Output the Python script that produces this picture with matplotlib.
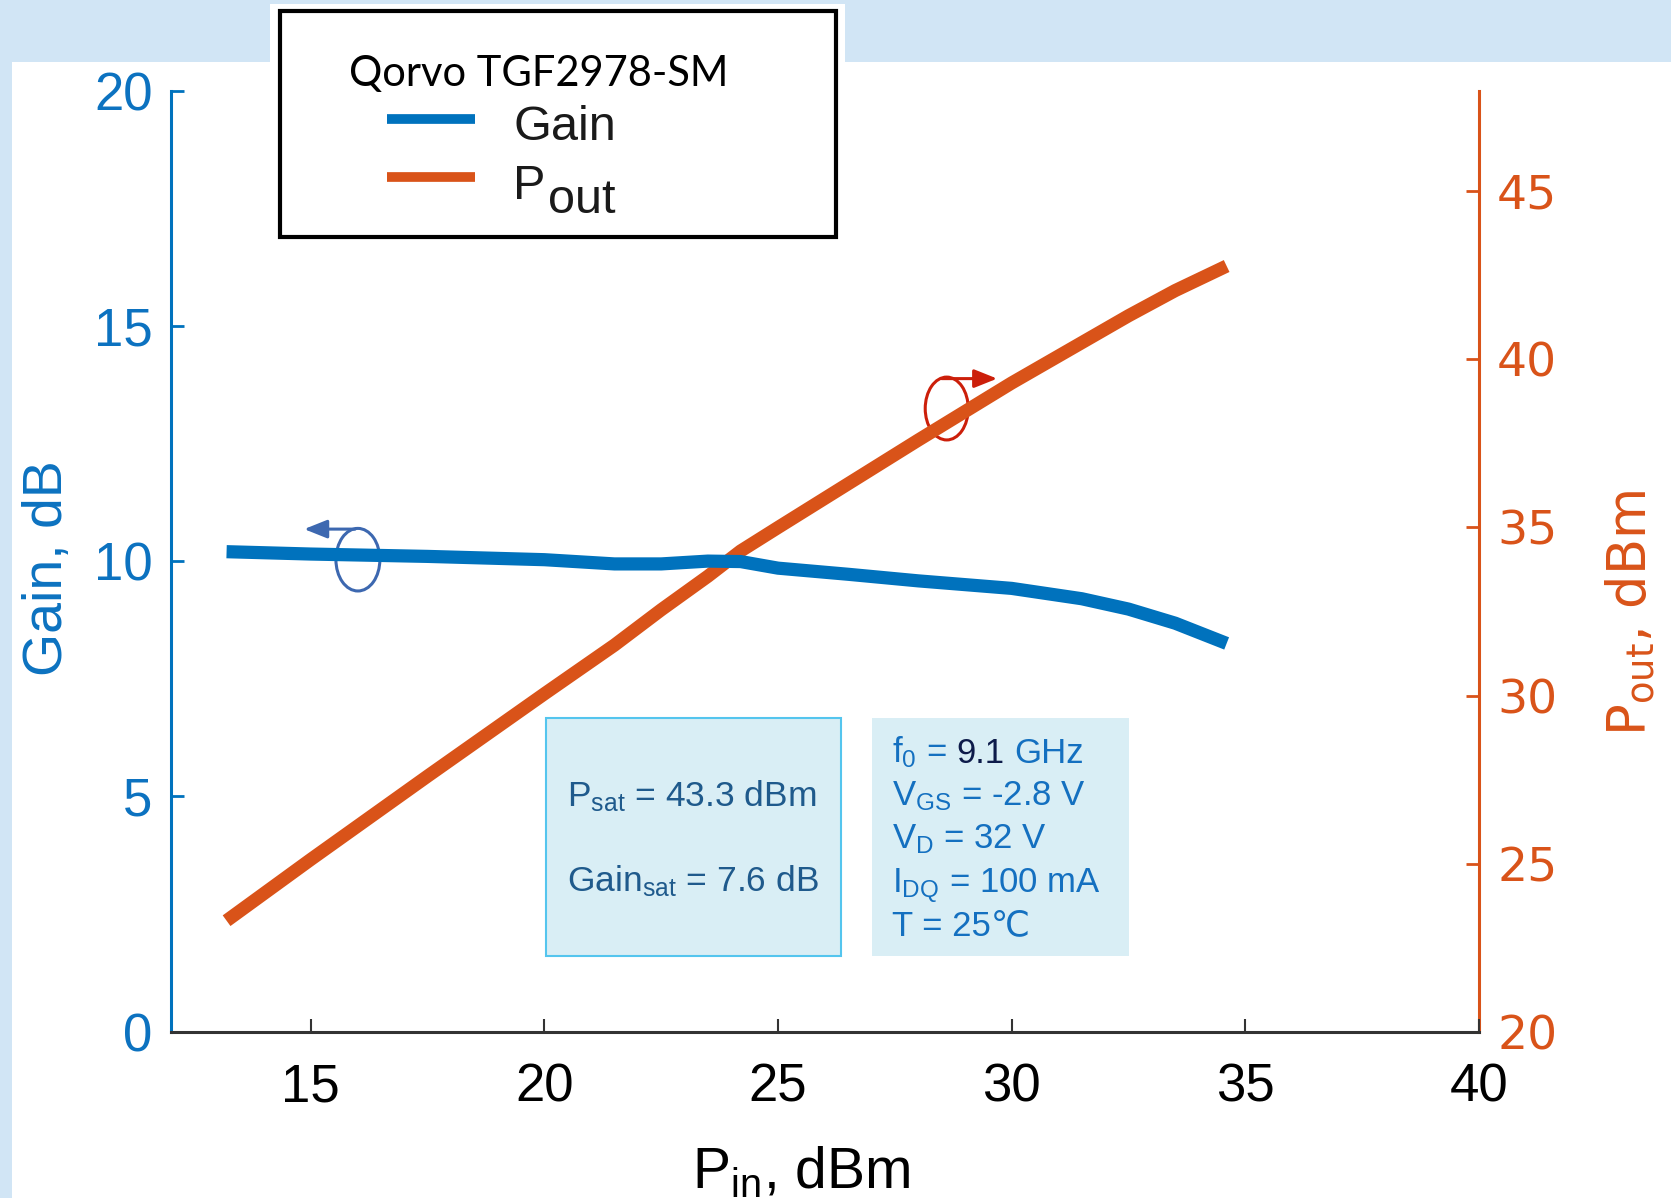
import matplotlib
matplotlib.use("Agg")
import matplotlib.pyplot as plt
from matplotlib.patches import Rectangle, Ellipse
from matplotlib.lines import Line2D

plt.rcParams['font.family'] = ['Liberation Sans', 'DejaVu Sans']
plt.rcParams['mathtext.default'] = 'regular'

# data
pin = [13.2, 15.0, 17.5, 20.0, 21.5, 22.5, 23.5, 24.2, 25.0, 26.5, 28.0, 30.0, 31.5, 32.5, 33.5, 34.6]
gain = [10.2, 10.15, 10.1, 10.03, 9.94, 9.94, 10.0, 9.99, 9.85, 9.72, 9.58, 9.42, 9.2, 8.98, 8.68, 8.25]
pout = [23.3, 25.12, 27.6, 30.05, 31.5, 32.55, 33.55, 34.3, 35.0, 36.3, 37.6, 39.3, 40.5, 41.3, 42.05, 42.78]

x_ticks = [15, 20, 25, 30, 35, 40]
gain_ticks = [0, 5, 10, 15, 20]
pout_ticks = [20, 25, 30, 35, 40, 45]

blue = '#0072bd'
orange = '#d95319'
W, H = 1671, 1198

fig = plt.figure(figsize=(W / 100, H / 100), dpi=100)
fig.patch.set_facecolor('#d1e5f5')

# white panel + white patch behind legend
fig.add_artist(Rectangle((12 / W, 0), 1, 1 - 62 / H, transform=fig.transFigure,
                         facecolor='white', edgecolor='none', zorder=-10))
fig.add_artist(Rectangle((270 / W, 1 - 80 / H), 575 / W, 76 / H, transform=fig.transFigure,
                         facecolor='white', edgecolor='none', zorder=-10))

ax = fig.add_axes([170.5 / W, 1 - 1031.6 / H, 1308.5 / W, 941 / H])
ax2 = ax.twinx()
ax.set_zorder(ax2.get_zorder() + 1)
ax.patch.set_visible(False)
ax2.patch.set_visible(False)

ax.plot(pin, gain, color=blue, lw=9.5, solid_capstyle='butt', zorder=3)
ax2.plot(pin, pout, color=orange, lw=9.5, solid_capstyle='butt', zorder=3)

ax.set_xlim(12, 40)
ax.set_ylim(0, 20)
ax2.set_ylim(20, 48)
ax.set_xticks(x_ticks)
ax.set_yticks(gain_ticks)
ax2.set_yticks(pout_ticks)

ax.tick_params(axis='x', direction='in', length=9.4, width=1.5, color='#333333',
               labelcolor='black', labelsize=38, pad=22)
ax.tick_params(axis='y', direction='in', length=9.4, width=2, color=blue,
               labelcolor='#0c72c0', labelsize=38, pad=13)
ax2.tick_params(axis='y', direction='in', length=9.4, width=2, color=orange,
                labelcolor=orange, labelsize=34, pad=13, labelfontfamily='DejaVu Sans')

for s in ['top', 'right']:
    ax.spines[s].set_visible(False)
for s in ['top', 'left', 'bottom']:
    ax2.spines[s].set_visible(False)
ax.spines['left'].set_color(blue)
ax.spines['left'].set_linewidth(2.2)
ax.spines['bottom'].set_color('#333333')
ax.spines['bottom'].set_linewidth(2.2)
ax2.spines['right'].set_color(orange)
ax2.spines['right'].set_linewidth(2.2)

ax.set_xlabel('P$_{in}$, dBm', fontsize=41)
ax.xaxis.set_label_coords(0.482, -0.121)
ax.set_ylabel('Gain, dB', fontsize=40, color='#0c72c0')
ax.yaxis.set_label_coords(-0.074, 0.493)
ax2.set_ylabel('P$_{out}$, dBm', fontsize=38, color=orange, family='DejaVu Sans')
ax2.yaxis.set_label_coords(1.0955, 0.445)

# circle-arrow markers telling which axis each curve belongs to
ax.add_patch(Ellipse((16.01, 10.03), 0.94, 1.33, fill=False, edgecolor='#3d68b0', lw=2.2, zorder=1))
ax.annotate('', xy=(14.86, 10.68), xytext=(15.95, 10.68),
            arrowprops=dict(arrowstyle='-|>,head_length=0.7,head_width=0.28', mutation_scale=20,
                            color='#3d68b0', lw=2.2, shrinkA=0, shrinkB=0), zorder=1)
ax2.add_patch(Ellipse((28.61, 38.54), 0.92, 1.87, fill=False, edgecolor='#cc1f0a', lw=2.2, zorder=1))
ax2.annotate('', xy=(29.69, 39.43), xytext=(28.5, 39.43),
             arrowprops=dict(arrowstyle='-|>,head_length=0.7,head_width=0.28', mutation_scale=20,
                             color='#cc1f0a', lw=2.2, shrinkA=0, shrinkB=0), zorder=1)

# info boxes
ax.add_patch(Rectangle((0.2872, 0.0803), 0.2252, 0.2526, transform=ax.transAxes,
                       facecolor='#d9eef5', edgecolor='#54c5ee', lw=1.5, zorder=4))
ax.add_patch(Rectangle((0.5358, 0.0803), 0.1967, 0.2526, transform=ax.transAxes,
                       facecolor='#d9eef5', edgecolor='none', zorder=4))

dark = '#1f5a8c'
ax.text(0.303, 0.2397, 'P$_{sat}$ = 43.3 dBm', transform=ax.transAxes, fontsize=25.5,
        color=dark, va='baseline', zorder=5)
ax.text(0.303, 0.1487, 'Gain$_{sat}$ = 7.6 dB', transform=ax.transAxes, fontsize=25.5,
        color=dark, va='baseline', zorder=5)

mid = '#1470c0'
t1 = ax.text(0.5514, 0.2858, 'f$_0$ =', transform=ax.transAxes, fontsize=25,
             color=mid, va='baseline', zorder=5)
cond_lines = ['V$_{GS}$ = -2.8 V', 'V$_D$ = 32 V', 'I$_{DQ}$ = 100 mA', 'T = 25℃']
cond_y = [0.2405, 0.1944, 0.1476, 0.1027]
for s, yy in zip(cond_lines, cond_y):
    ax.text(0.5514, yy, s, transform=ax.transAxes, fontsize=25, color=mid, va='baseline', zorder=5)

# legend box, drawn by hand so the big "out" subscript matches
fig.add_artist(Rectangle((280 / W, 1 - 237 / H), 556 / W, 226 / H, transform=fig.transFigure,
                         facecolor='white', edgecolor='black', lw=3, zorder=4))
fig.text(349 / W, 1 - 86 / H, 'Qorvo TGF2978-SM', family='Lato', fontsize=30,
         va='baseline', zorder=6)
fig.add_artist(Line2D([387 / W, 475 / W], [1 - 119 / H] * 2, color=blue, lw=7,
                      solid_capstyle='butt', transform=fig.transFigure, zorder=6))
fig.add_artist(Line2D([387 / W, 475 / W], [1 - 176.5 / H] * 2, color=orange, lw=7,
                      solid_capstyle='butt', transform=fig.transFigure, zorder=6))
fig.text(513 / W, 1 - 140 / H, 'Gain', fontsize=35, va='baseline', color='#1a1a1a', zorder=6)
fig.text(513 / W, 1 - 199 / H, 'P', fontsize=35, va='baseline', color='#1a1a1a', zorder=6)
fig.text(548 / W, 1 - 213 / H, 'out', fontsize=35, va='baseline', color='#1a1a1a', zorder=6)

# "9.1" is darker than the rest of its line
fig.canvas.draw()
r = fig.canvas.get_renderer()
bb = t1.get_window_extent(renderer=r)
x1 = ax.transAxes.inverted().transform((bb.x1 + 9.5, bb.y0))[0]
t2 = ax.text(x1, 0.2858, '9.1', transform=ax.transAxes, fontsize=25,
             color='#0d1b4a', va='baseline', zorder=5)
bb2 = t2.get_window_extent(renderer=r)
x2 = ax.transAxes.inverted().transform((bb2.x1 + 9.5, bb2.y0))[0]
ax.text(x2, 0.2858, 'GHz', transform=ax.transAxes, fontsize=25, color=mid,
        va='baseline', zorder=5)

fig.savefig('out.png', dpi=100, facecolor=fig.get_facecolor())
